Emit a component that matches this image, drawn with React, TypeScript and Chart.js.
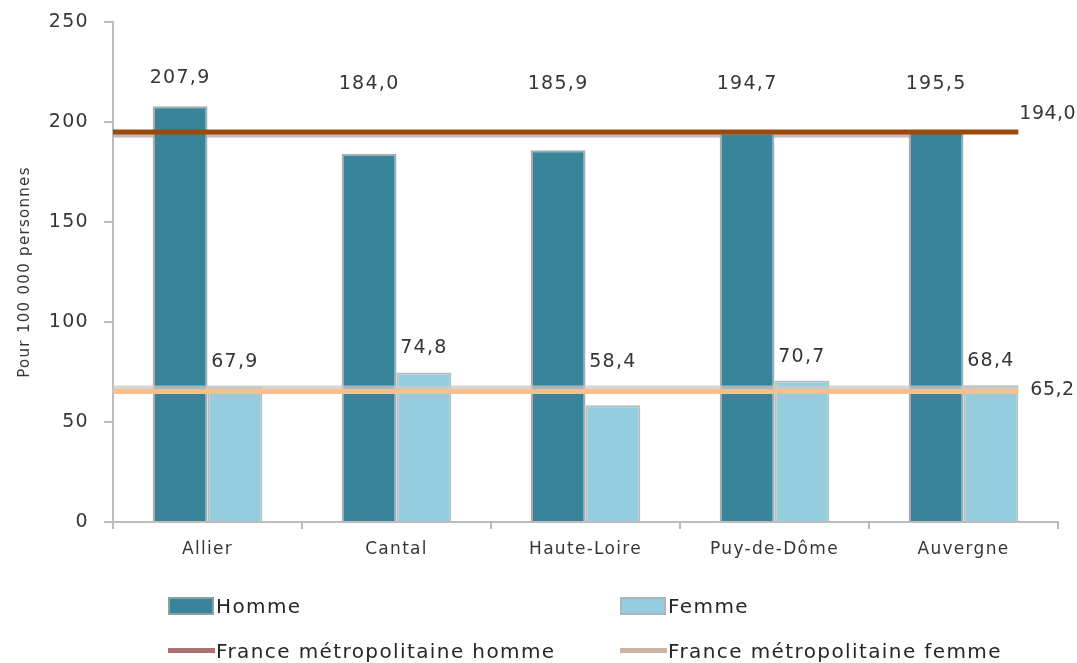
import React, { useEffect, useRef } from 'react';
import { Chart, registerables } from 'chart.js';

Chart.register(...registerables);

const categories = ['Allier', 'Cantal', 'Haute-Loire', 'Puy-de-Dôme', 'Auvergne'];
const hommeValues = [207.9, 184.0, 185.9, 194.7, 195.5];
const femmeValues = [67.9, 74.8, 58.4, 70.7, 68.4];
const franceHomme = 194.0;
const franceFemme = 65.2;
const yTicks = [0, 50, 100, 150, 200, 250];
const seriesNames = ['Homme', 'Femme'];
const lineNames = ['France métropolitaine homme', 'France métropolitaine femme'];
const yTitle = 'Pour 100 000 personnes';

const FONT = "'DejaVu Sans', sans-serif";
const TEXT = '#363636';
const HOMME = '#38849a';
const FEMME = '#94cddd';
const LINE_H = '#9b4a0c';
const LINE_F = '#f8bf8e';
const LEG_LINE_H = '#a87272';
const LEG_LINE_F = '#c9b4a5';
const AXIS = '#bcbcbc';

const fmt = (v: number) => v.toFixed(1).replace('.', ',');

const overlay = {
  id: 'overlay',
  beforeUpdate(chart: any) {
    chart.ctx.letterSpacing = '1.3px';
  },
  beforeDraw(chart: any) {
    chart.ctx.letterSpacing = '1.3px';
  },
  beforeDatasetsDraw(chart: any) {
    const ctx = chart.ctx;
    const y = chart.scales.y;
    const area = chart.chartArea;
    const fm = chart.getDatasetMeta(1);
    const last = fm.data[fm.data.length - 1];
    const endX = last.x + last.width / 2;
    const py = y.getPixelForValue(franceHomme);
    ctx.save();
    ctx.lineCap = 'butt';
    ctx.strokeStyle = 'rgba(180,168,168,0.8)';
    ctx.lineWidth = 4;
    ctx.beginPath();
    ctx.moveTo(area.left, py + 1.5);
    ctx.lineTo(endX - 55, py + 1.5);
    ctx.stroke();
    ctx.restore();
  },
  afterDatasetsDraw(chart: any) {
    const ctx = chart.ctx;
    const y = chart.scales.y;
    const area = chart.chartArea;
    const hm = chart.getDatasetMeta(0);
    const fm = chart.getDatasetMeta(1);
    const last = fm.data[fm.data.length - 1];
    const endX = last.x + last.width / 2;
    const pyH = y.getPixelForValue(franceHomme);
    const pyF = y.getPixelForValue(franceFemme);
    ctx.save();
    ctx.lineCap = 'butt';
    ctx.strokeStyle = 'rgba(205,200,195,0.75)';
    ctx.lineWidth = 4;
    ctx.beginPath();
    ctx.moveTo(area.left, pyF - 4);
    ctx.lineTo(endX, pyF - 4);
    ctx.stroke();
    ctx.strokeStyle = LINE_H;
    ctx.lineWidth = 5;
    ctx.beginPath();
    ctx.moveTo(area.left, pyH - 2);
    ctx.lineTo(endX, pyH - 2);
    ctx.stroke();
    ctx.strokeStyle = LINE_F;
    ctx.lineWidth = 5;
    ctx.beginPath();
    ctx.moveTo(area.left, pyF);
    ctx.lineTo(endX, pyF);
    ctx.stroke();

    ctx.letterSpacing = '1.3px';
    ctx.fillStyle = TEXT;
    ctx.font = `19px ${FONT}`;
    ctx.textAlign = 'center';
    ctx.textBaseline = 'middle';
    hm.data.forEach((bar: any, i: number) => {
      const top = Math.min(bar.y, pyH - 22) - 28;
      ctx.fillText(fmt(hommeValues[i]), bar.x, top);
    });
    fm.data.forEach((bar: any, i: number) => {
      const top = Math.min(bar.y, pyF - 6) - 24;
      ctx.fillText(fmt(femmeValues[i]), bar.x, top);
    });
    ctx.textAlign = 'left';
    ctx.letterSpacing = '0.5px';
    ctx.fillText(fmt(franceHomme), endX + 1, pyH - 20);
    ctx.fillText(fmt(franceFemme), endX + 12, pyF - 2);
    ctx.restore();
  },
};

export default function App() {
  const ref = useRef<HTMLCanvasElement>(null);

  useEffect(() => {
    if (!ref.current) return;
    Chart.defaults.font.family = FONT;
    const chart = new Chart(ref.current, {
      type: 'bar',
      data: {
        labels: categories,
        datasets: [
          {
            label: seriesNames[0],
            data: hommeValues,
            backgroundColor: HOMME,
            borderColor: '#a3adb0',
            borderWidth: 2,
            categoryPercentage: 0.58,
            barPercentage: 1,
          },
          {
            label: seriesNames[1],
            data: femmeValues,
            backgroundColor: FEMME,
            borderColor: '#b3bcbf',
            borderWidth: 2,
            categoryPercentage: 0.58,
            barPercentage: 1,
          },
        ],
      },
      options: {
        responsive: false,
        animation: false,
        devicePixelRatio: 1,
        layout: { padding: { left: 0, right: 19, top: 22, bottom: 0 } },
        plugins: {
          legend: { display: false },
          tooltip: { enabled: false },
        },
        scales: {
          x: {
            grid: {
              display: true,
              drawOnChartArea: false,
              drawTicks: true,
              tickLength: 7,
              color: AXIS,
              lineWidth: 2,
              offset: true,
            },
            border: { display: true, color: AXIS, width: 2 },
            ticks: { color: TEXT, font: { size: 17 }, padding: 10 },
            afterFit: (s: any) => {
              s.height = 141;
            },
          },
          y: {
            min: 0,
            max: 250,
            grid: {
              display: true,
              drawOnChartArea: false,
              drawTicks: true,
              tickLength: 9,
              color: AXIS,
              lineWidth: 2,
            },
            border: { display: true, color: AXIS, width: 2 },
            ticks: { color: TEXT, font: { size: 19, lineHeight: 1 }, padding: 15 },
            afterBuildTicks: (s: any) => {
              s.ticks = yTicks.map((v) => ({ value: v }));
            },
            title: {
              display: true,
              text: yTitle,
              color: TEXT,
              font: { size: 15 },
              padding: { top: 16, bottom: 0 },
            },
            afterFit: (s: any) => {
              s.width = 113;
              s.paddingTop = 0;
            },
          },
        },
      },
      plugins: [overlay],
    });
    return () => chart.destroy();
  }, []);

  const txt: React.CSSProperties = {
    position: 'absolute',
    fontFamily: FONT,
    fontSize: 20,
    letterSpacing: '1.4px',
    color: '#262626',
    lineHeight: '24px',
    whiteSpace: 'nowrap',
  };
  const box = (left: number, bg: string, border: string): React.CSSProperties => ({
    position: 'absolute',
    left,
    top: 597,
    width: 46,
    height: 18,
    background: bg,
    border: `2px solid ${border}`,
    boxSizing: 'border-box',
  });
  const line = (left: number, bg: string): React.CSSProperties => ({
    position: 'absolute',
    left,
    top: 648,
    width: 47,
    height: 5,
    background: bg,
  });

  return (
    <div style={{ position: 'absolute', left: 0, top: 0, width: 1077, height: 663, background: '#fff' }}>
      <canvas ref={ref} width={1077} height={663} style={{ display: 'block', width: 1077, height: 663 }} />
      <div style={box(168, HOMME, '#8d9ea4')} />
      <div style={{ ...txt, left: 216, top: 594 }}>{seriesNames[0]}</div>
      <div style={box(620, FEMME, '#a9b6ba')} />
      <div style={{ ...txt, left: 668, top: 594 }}>{seriesNames[1]}</div>
      <div style={line(168, LEG_LINE_H)} />
      <div style={{ ...txt, left: 216, top: 639 }}>{lineNames[0]}</div>
      <div style={line(620, LEG_LINE_F)} />
      <div style={{ ...txt, left: 668, top: 639 }}>{lineNames[1]}</div>
    </div>
  );
}
